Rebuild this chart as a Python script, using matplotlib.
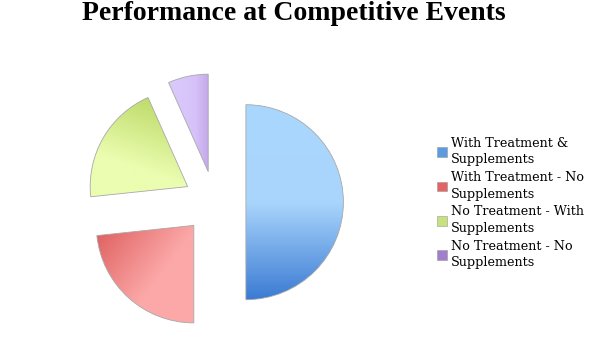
import numpy as np
import matplotlib
matplotlib.use('Agg')
import matplotlib.pyplot as plt
from matplotlib.patches import Patch
from matplotlib.colors import LinearSegmentedColormap

labels = ['With Treatment &\nSupplements', 'With Treatment - No\nSupplements',
          'No Treatment - With\nSupplements', 'No Treatment - No\nSupplements']
values = [15, 7, 6, 2]
legend_colors = ['#5C9BE0', '#E26464', '#C6E17E', '#A07ECB']

# gradient stops per slice: (start point, end point, colours)
grad_p0 = [(0.0, 1.0), (-1.22, -0.33), (-0.68, 1.08), (-0.40, 0.6)]
grad_p1 = [(0.0, -1.0), (-0.60, -0.80), (-0.92, 0.40), (-0.07, 0.6)]
grad_cols = [['#AAD7FD', '#A9D5FC', '#3B7BD3'],
             ['#E06262', '#FCA8A8', '#FCA8A8'],
             ['#BEDB6A', '#EBFDB0', '#EBFDB0'],
             ['#DAC8FB', '#D6C2F8', '#C4A9EA']]
grad_pos = [[0, 0.5, 1], [0, 1, 1], [0, 1, 1], [0, 0.6, 1]]

W, H = 589, 342
fig = plt.figure(figsize=(W / 100, H / 100), dpi=100)
R = 97.5
cx, cy = 214.7, H - 202.2
ax = fig.add_axes([(cx - 2 * R) / W, (cy - 1.4 * R) / H, 4 * R / W, 2.8 * R / H])

wedges, _ = ax.pie(values, startangle=90, counterclock=False, explode=[0.32] * 4,
                   wedgeprops=dict(facecolor='none', edgecolor='#a8a8a8', linewidth=0.6, zorder=3))

xs = np.linspace(-2, 2, 500)
ys = np.linspace(-1.4, 1.4, 350)
X, Y = np.meshgrid(xs, ys)
for i, w in enumerate(wedges):
    p0 = np.array(grad_p0[i])
    d = np.array(grad_p1[i]) - p0
    t = ((X - p0[0]) * d[0] + (Y - p0[1]) * d[1]) / (d @ d)
    t = np.clip(t, 0, 1)
    cmap = LinearSegmentedColormap.from_list('g%d' % i, list(zip(grad_pos[i], grad_cols[i])))
    img = cmap(t)
    ax.imshow(img, extent=(-2, 2, -1.4, 1.4), origin='lower', clip_path=w, zorder=2,
              interpolation='bilinear')

ax.set_xlim(-2, 2)
ax.set_ylim(-1.4, 1.4)
ax.axis('off')

fig.suptitle('Performance at Competitive Events', x=0.498, y=0.997, fontsize=20,
             fontweight='bold', family='Liberation Serif')

handles = [Patch(facecolor=c, edgecolor='#999999', linewidth=0.4) for c in legend_colors]
leg = fig.legend(handles, labels, loc='center left', bbox_to_anchor=(437 / W, 1 - 203 / H),
                 frameon=False, prop=dict(family='DejaVu Serif', size=9.2),
                 handlelength=0.8, handleheight=0.8, handletextpad=0.3, labelspacing=0.38,
                 borderpad=0, borderaxespad=0)
for t in leg.get_texts():
    t.set_linespacing(1.33)

fig.savefig('out.png', dpi=100)
